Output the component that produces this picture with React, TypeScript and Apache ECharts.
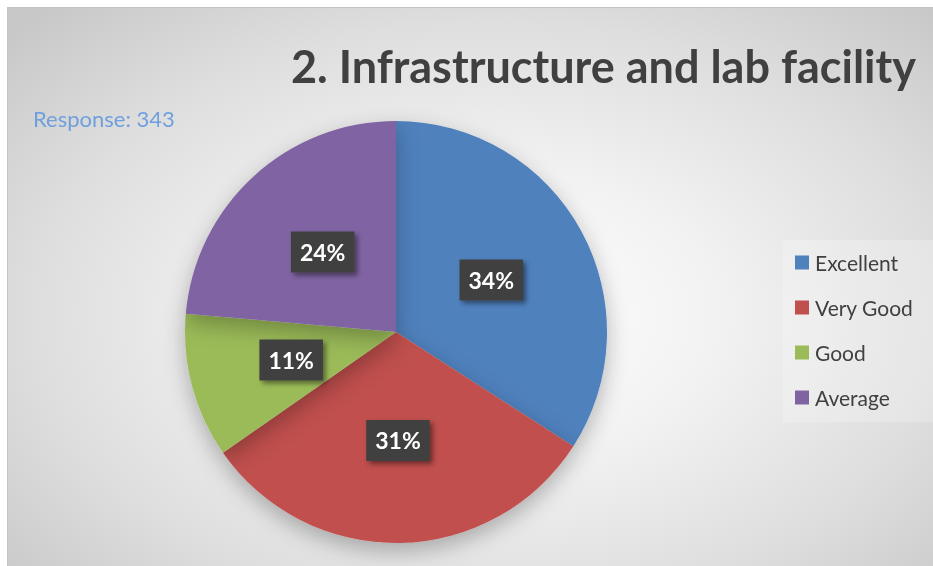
import React, { useEffect, useRef } from "react";
import * as echarts from "echarts";

const categories = ["Excellent", "Very Good", "Good", "Average"];
const counts = [117, 107, 38, 81];
const percentLabels = ["34%", "31%", "11%", "24%"];
const colors = ["#4f81bd", "#c0504d", "#9bbb59", "#8064a2"];
const titleText = "2. Infrastructure and lab facility";
const responseText = "Response: 343";

export default function App() {
  const ref = useRef<HTMLDivElement>(null);
  useEffect(() => {
    if (!ref.current) return;
    const chart = echarts.init(ref.current, undefined, { renderer: "svg" });
    chart.setOption({
      animation: false,
      title: [
        {
          text: titleText,
          right: 17,
          top: 35,
          padding: 0,
          textStyle: {
            fontFamily: "Lato",
            fontWeight: "bold",
            fontSize: 45,
            color: "#404040",
          },
        },
        {
          text: responseText,
          left: 25,
          top: 99,
          padding: 0,
          textStyle: {
            fontFamily: "Lato",
            fontWeight: "normal",
            fontSize: 22,
            color: "#6f9fdc",
          },
        },
      ],
      legend: {
        orient: "vertical",
        left: 775,
        top: 232,
        width: 146,
        height: 182,
        padding: [12, 40, 14, 12],
        backgroundColor: "rgba(255,255,255,0.22)",
        icon: "rect",
        itemWidth: 14,
        itemHeight: 14,
        itemGap: 24,
        data: categories,
        itemStyle: { shadowBlur: 0, shadowOffsetX: 0, shadowOffsetY: 0 },
        textStyle: {
          fontFamily: "Lato",
          fontSize: 21,
          color: "#404040",
          padding: [0, 0, 0, 1],
        },
      },
      series: [
        {
          type: "pie",
          center: [388, 324],
          radius: 211,
          startAngle: 90,
          clockwise: true,
          avoidLabelOverlap: false,
          itemStyle: {
            shadowBlur: 22,
            shadowColor: "rgba(0,0,0,0.28)",
            shadowOffsetY: 8,
          },
          emphasis: { disabled: true },
          label: {
            show: true,
            position: "inside",
            formatter: (p: any) => percentLabels[p.dataIndex],
            fontFamily: "Lato",
            fontWeight: "bold",
            fontSize: 23,
            color: "#ffffff",
            backgroundColor: "#404040",
            padding: [10, 9, 8, 9],
            shadowBlur: 5,
            shadowColor: "rgba(0,0,0,0.45)",
            shadowOffsetX: 3,
            shadowOffsetY: 3,
          },
          labelLine: { show: false },
          data: categories.map((name, i) => ({
            name,
            value: counts[i],
            itemStyle: { color: colors[i] },
          })),
        },
      ],
    });
    return () => chart.dispose();
  }, []);

  return (
    <div
      ref={ref}
      style={{
        position: "fixed",
        left: 7,
        top: 7,
        width: 926,
        height: 559,
        boxSizing: "border-box",
        borderTop: "1px solid #c4c4c4",
        borderLeft: "1px solid #c4c4c4",
        background:
          "radial-gradient(ellipse 70% 75% at 52% 55%, #ffffff 0%, #f2f2f2 35%, #dedede 70%, #c8c8c8 100%)",
      }}
    />
  );
}
